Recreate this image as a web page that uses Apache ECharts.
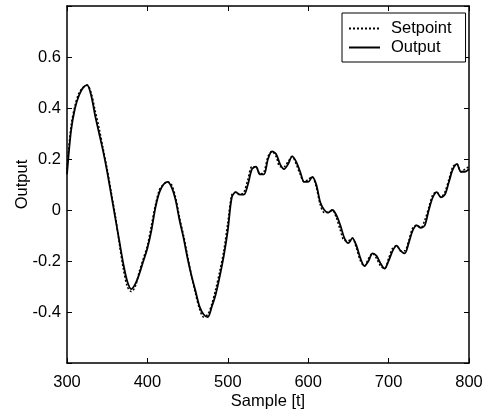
<!DOCTYPE html>
<html>
<head>
<meta charset="utf-8">
<script src="https://cdn.jsdelivr.net/npm/echarts@6/dist/echarts.min.js"></script>
<style>
html,body{margin:0;padding:0;background:#fff;}
#c{width:487px;height:415px;}
</style>
</head>
<body>
<div id="c"></div>
<script>
const samples = [
300,305,310,315,320,325,330,335,340,345,
350,355,360,365,370,375,380,385,390,395,
400,405,410,415,420,425,430,435,440,445,
450,455,460,465,470,475,480,485,490,495,
500,505,510,515,520,525,530,535,540,545,
550,555,560,565,570,575,580,585,590,595,
600,605,610,615,620,625,630,635,640,645,
650,655,660,665,670,675,680,685,690,695,
700,705,710,715,720,725,730,735,740,745,
750,755,760,765,770,775,780,785,790,795,
800];
const outputValues = [
0.14,0.31,0.40,0.45,0.48,0.49,0.45,0.37,0.30,0.23,
0.15,0.06,-0.03,-0.12,-0.21,-0.28,-0.31,-0.29,-0.25,-0.20,
-0.15,-0.08,0.01,0.07,0.10,0.11,0.09,0.04,-0.04,-0.11,
-0.19,-0.26,-0.32,-0.38,-0.41,-0.42,-0.38,-0.33,-0.26,-0.18,
-0.08,0.05,0.07,0.06,0.06,0.10,0.16,0.17,0.14,0.14,
0.20,0.23,0.22,0.18,0.16,0.18,0.21,0.19,0.15,0.11,
0.11,0.13,0.10,0.03,0.00,-0.01,0.00,-0.02,-0.06,-0.11,
-0.13,-0.11,-0.14,-0.19,-0.22,-0.20,-0.17,-0.18,-0.21,-0.23,
-0.20,-0.16,-0.14,-0.16,-0.17,-0.13,-0.08,-0.06,-0.07,-0.06,
0.00,0.05,0.07,0.05,0.06,0.11,0.16,0.18,0.15,0.15,
0.16];
const setpointValues = [
0.16,0.33,0.41,0.46,0.48,0.49,0.46,0.39,0.32,0.24,
0.16,0.07,-0.02,-0.13,-0.23,-0.30,-0.32,-0.30,-0.24,-0.19,
-0.14,-0.06,0.02,0.08,0.10,0.11,0.10,0.05,-0.03,-0.10,
-0.18,-0.26,-0.33,-0.39,-0.42,-0.41,-0.37,-0.31,-0.24,-0.16,
-0.05,0.06,0.07,0.06,0.07,0.12,0.17,0.17,0.14,0.15,
0.21,0.23,0.21,0.17,0.17,0.19,0.21,0.18,0.14,0.11,
0.12,0.13,0.09,0.02,-0.01,-0.01,0.00,-0.03,-0.08,-0.12,
-0.12,-0.11,-0.15,-0.20,-0.22,-0.19,-0.17,-0.19,-0.22,-0.23,
-0.19,-0.15,-0.14,-0.16,-0.16,-0.12,-0.07,-0.06,-0.07,-0.04,
0.01,0.06,0.07,0.05,0.07,0.12,0.17,0.18,0.15,0.16,
0.17];
const xTicks = [300,400,500,600,700,800];
const yTickLabels = ['-0.4','-0.2','0','0.2','0.4','0.6'];

const FONT = "'Liberation Sans', Arial, sans-serif";
const FS = 16.5;
const pairs = (vals) => samples.map((x, i) => [x, vals[i]]);

const chart = echarts.init(document.getElementById('c'), null, {renderer: 'canvas'});
const axisLine = {show: true, onZero: false, lineStyle: {color: '#000', width: 1.5}};
const axisTick = {show: true, inside: true, length: 5, lineStyle: {color: '#000', width: 1}};

function yFmt(v) {
  const s = String(+v.toFixed(1));
  return yTickLabels.indexOf(s) >= 0 ? s : '';
}
function xFmt(v) {
  return xTicks.indexOf(Math.round(v)) >= 0 ? String(Math.round(v)) : '';
}

chart.setOption({
  animation: false,
  backgroundColor: '#fff',
  textStyle: {fontFamily: FONT, color: '#000'},
  grid: {left: 67, top: 6, width: 402, height: 357, containLabel: false, outerBoundsMode: 'none'},
  legend: {
    show: true,
    left: 342, top: 13,
    orient: 'vertical',
    data: ['Setpoint', 'Output'],
    backgroundColor: '#fff',
    borderColor: '#000', borderWidth: 1,
    padding: [7, 14, 6, 6],
    itemWidth: 31, itemHeight: 14, itemGap: 2,
    itemStyle: {color: 'rgba(0,0,0,0)', borderWidth: 0, opacity: 0},
    textStyle: {fontFamily: FONT, fontSize: FS, color: '#000', padding: [0, 0, 0, 6]}
  },
  xAxis: [{
    type: 'value', min: 300, max: 800, interval: 100, position: 'bottom',
    name: 'Sample [t]', nameLocation: 'middle', nameGap: 30, nameMoveOverlap: false,
    nameTextStyle: {fontFamily: FONT, fontSize: FS, color: '#000'},
    axisLine: axisLine, axisTick: axisTick,
    axisLabel: {color: '#000', fontFamily: FONT, fontSize: FS, margin: 11, formatter: xFmt},
    splitLine: {show: false}
  }, {
    type: 'value', min: 300, max: 800, interval: 100, position: 'top',
    axisLine: axisLine, axisTick: axisTick, axisLabel: {show: false}, splitLine: {show: false}
  }],
  yAxis: [{
    type: 'value', min: -0.6, max: 0.8, interval: 0.2, position: 'left',
    name: 'Output', nameLocation: 'middle', nameGap: 36, nameRotate: 90, nameMoveOverlap: false,
    nameTextStyle: {fontFamily: FONT, fontSize: FS, color: '#000'},
    axisLine: axisLine, axisTick: axisTick,
    axisLabel: {color: '#000', fontFamily: FONT, fontSize: FS, margin: 6, formatter: yFmt},
    splitLine: {show: false}
  }, {
    type: 'value', min: -0.6, max: 0.8, interval: 0.2, position: 'right',
    axisLine: axisLine, axisTick: axisTick, axisLabel: {show: false}, splitLine: {show: false}
  }],
  series: [{
    name: 'Setpoint', type: 'line', xAxisIndex: 0, yAxisIndex: 0,
    data: pairs(setpointValues), showSymbol: false, symbol: 'none', smooth: 0.3,
    lineStyle: {color: '#000', width: 1.5, type: [2, 2]},
    itemStyle: {color: '#000'}, z: 3
  }, {
    name: 'Output', type: 'line', xAxisIndex: 0, yAxisIndex: 0,
    data: pairs(outputValues), showSymbol: false, symbol: 'none', smooth: 0.3,
    lineStyle: {color: '#000', width: 1.8, type: 'solid'},
    itemStyle: {color: '#000'}, z: 2
  }]
});
</script>
</body>
</html>
